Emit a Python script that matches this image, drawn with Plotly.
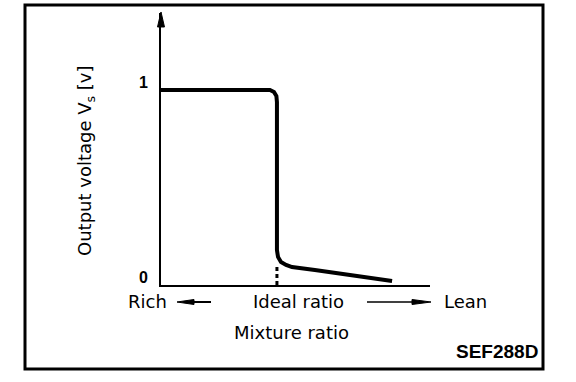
import plotly.graph_objects as go

# Sensor output curve (x: mixture ratio, arbitrary units 0..10; y: output voltage V)
mixture_x = [0.0, 4.05, 4.20, 4.29, 4.31, 4.31, 4.35, 4.46, 4.65, 4.87, 5.72, 8.59]
voltage_y = [1.0, 1.0, 0.99, 0.969, 0.938, 0.179, 0.144, 0.118, 0.103, 0.092, 0.077, 0.021]
ideal_ratio_x = 4.31
ideal_marker_top = 0.092
y_tick_vals = [0, 1]
y_tick_text = ["0", "1"]
x_range = [0, 10]
y_range = [0, 1.395]

FONT = "DejaVu Sans"

fig = go.Figure()
fig.add_trace(go.Scatter(x=mixture_x, y=voltage_y, mode="lines",
                         line=dict(color="black", width=4), hoverinfo="skip"))
fig.add_trace(go.Scatter(x=[ideal_ratio_x, ideal_ratio_x], y=[0, ideal_marker_top], mode="lines",
                         line=dict(color="black", width=3, dash="4px,3px"), hoverinfo="skip"))

def px2paper(px, py):
    return (px - 161) / 269.0, (285 - py) / 272.0

def path(points):
    pts = [px2paper(a, b) for a, b in points]
    return "M " + " L ".join(f"{x:.5f},{y:.5f}" for x, y in pts) + " Z"

ann = []
# y title
tx, ty = px2paper(86, 161)
ann.append(dict(x=tx, y=ty, xref="paper", yref="paper", text="Output voltage V<sub>s</sub> [v]",
                textangle=-90, showarrow=False, xanchor="center", yanchor="middle",
                font=dict(family=FONT, size=18, color="black")))
# bottom labels
for text, px in [("Rich", 147), ("Ideal ratio", 298), ("Lean", 465)]:
    x, y = px2paper(px, 301)
    ann.append(dict(x=x, y=y, xref="paper", yref="paper", text=text, showarrow=False,
                    xanchor="center", yanchor="middle",
                    font=dict(family=FONT, size=18, color="black")))
x, y = px2paper(291, 332)
ann.append(dict(x=x, y=y, xref="paper", yref="paper", text="Mixture ratio", showarrow=False,
                xanchor="center", yanchor="middle",
                font=dict(family=FONT, size=18, color="black")))
x, y = px2paper(497, 351)
ann.append(dict(x=x, y=y, xref="paper", yref="paper", text="SEF288D", showarrow=False,
                xanchor="center", yanchor="middle",
                font=dict(family="Liberation Sans", size=19, color="black", weight="bold")))

shapes = []
# border
bx0, by0 = px2paper(25, 369)
bx1, by1 = px2paper(543, 5)
shapes.append(dict(type="rect", xref="paper", yref="paper", x0=bx0, y0=by0, x1=bx1, y1=by1,
                   line=dict(color="black", width=3), layer="above"))
# y-axis arrow head
shapes.append(dict(type="path", xref="paper", yref="paper",
                   path=path([(161, 12), (157.5, 27), (164.5, 27)]),
                   fillcolor="black", line=dict(color="black", width=1)))
# direction arrows (Rich <- , -> Lean)
for x0p, x1p, w in [(193, 211, 2), (367, 413, 1.5)]:
    a, yy = px2paper(x0p, 302)
    b, _ = px2paper(x1p, 302)
    shapes.append(dict(type="line", xref="paper", yref="paper", x0=a, y0=yy, x1=b, y1=yy,
                       line=dict(color="black", width=w)))
shapes.append(dict(type="path", xref="paper", yref="paper",
                   path=path([(177, 302), (194, 299.5), (194, 304.5)]),
                   fillcolor="black", line=dict(color="black", width=1)))
shapes.append(dict(type="path", xref="paper", yref="paper",
                   path=path([(431, 302), (412, 299.5), (412, 304.5)]),
                   fillcolor="black", line=dict(color="black", width=1)))

fig.update_layout(
    width=576, height=382,
    margin=dict(l=161, r=146, t=13, b=97),
    paper_bgcolor="white", plot_bgcolor="white",
    showlegend=False,
    xaxis=dict(range=x_range, showgrid=False, zeroline=False, showticklabels=False,
               ticks="", showline=True, linecolor="black", linewidth=2),
    yaxis=dict(range=y_range, showgrid=False, zeroline=False, tickvals=y_tick_vals,
               ticktext=y_tick_text, ticks="", showline=True, linecolor="black", linewidth=2,
               ticklabelstandoff=8, ticklabelshift=-8,
               tickfont=dict(family="Liberation Sans", size=16, color="black", weight="bold")),
    annotations=ann,
    shapes=shapes,
)

fig.write_html("out.html", post_script="document.body.style.margin='0';",
               config={"displayModeBar": False})
